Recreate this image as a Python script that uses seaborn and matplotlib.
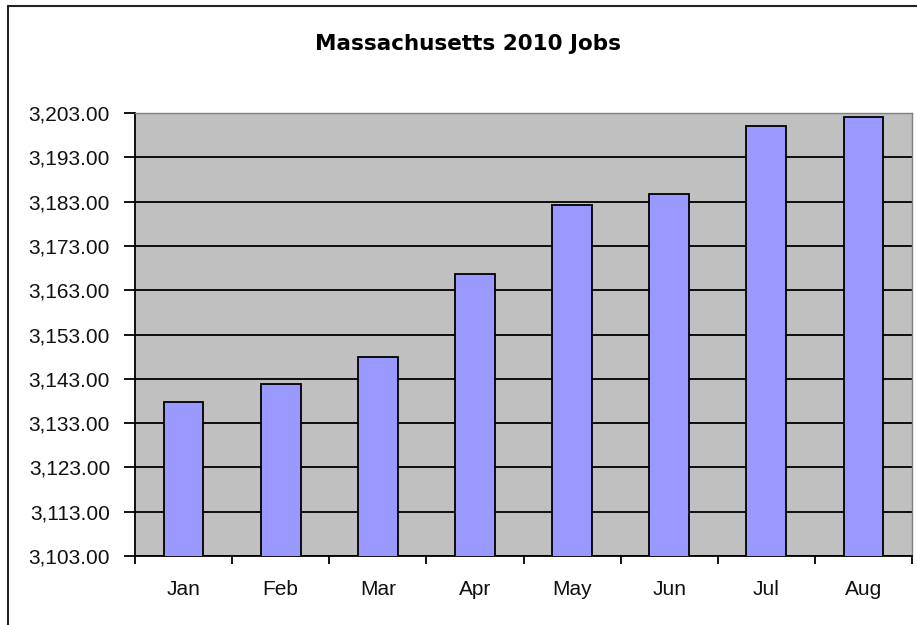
import matplotlib
matplotlib.use("Agg")
import matplotlib.pyplot as plt
from matplotlib.lines import Line2D
from matplotlib.ticker import FixedLocator, FuncFormatter
import seaborn as sns
import pandas as pd
import numpy as np

months = ["Jan", "Feb", "Mar", "Apr", "May", "Jun", "Jul", "Aug"]
jobs = [3137.7, 3141.8, 3147.9, 3166.6, 3182.2, 3184.8, 3200.0, 3202.2]
y_ticks = [3103, 3113, 3123, 3133, 3143, 3153, 3163, 3173, 3183, 3193, 3203]
title = "Massachusetts 2010 Jobs"

sns.set_theme(style="white")
plt.rcParams['font.family'] = ['Liberation Sans', 'DejaVu Sans']

df = pd.DataFrame({"month": months, "jobs": jobs})

fig = plt.figure(figsize=(9.17, 6.25), dpi=100)
ax = fig.add_axes([135/917, 1-556/625, (912-135)/917, (556-113)/625])
ax.set_facecolor("#C0C0C0")

sns.barplot(data=df, x="month", y="jobs", color="#9999FF", edgecolor="black",
            linewidth=1.3, width=0.41, saturation=1, ax=ax, zorder=3)

ax.set_ylim(y_ticks[0], y_ticks[-1])
ax.set_xlim(-0.5, len(months) - 0.5)
ax.yaxis.set_major_locator(FixedLocator(y_ticks))
ax.yaxis.set_major_formatter(FuncFormatter(lambda v, p: f"{v:,.2f}"))
ax.grid(axis="y", color="black", linewidth=1.3, zorder=1)
ax.set_axisbelow(True)
ax.set_xlabel("")
ax.set_ylabel("")

ax.tick_params(axis="y", which="major", direction="out", length=8, width=1.3,
               color="black", labelsize=15, labelcolor="#111111", pad=10, left=True)
ax.tick_params(axis="x", which="major", length=0, labelsize=15, labelcolor="#111111", pad=17)
ax.xaxis.set_minor_locator(FixedLocator(np.arange(-0.5, len(months), 1.0)))
ax.tick_params(axis="x", which="minor", direction="out", length=6, width=1.3,
               color="black", bottom=True)

for s in ["left", "bottom"]:
    ax.spines[s].set_color("black")
    ax.spines[s].set_linewidth(1.3)
for s in ["top", "right"]:
    ax.spines[s].set_color("#808080")
    ax.spines[s].set_linewidth(1.0)

fig.text(468/917, 1-44/625, title, ha="center", va="center",
         fontsize=15.5, fontweight="bold", color="black", family=["DejaVu Sans"])

# outer chart frame
fig.add_artist(Line2D([8/917, 1.0], [1-6/625, 1-6/625], transform=fig.transFigure,
                      color="#222222", linewidth=1.5))
fig.add_artist(Line2D([8/917, 8/917], [0.0, 1-6/625], transform=fig.transFigure,
                      color="#222222", linewidth=1.5))

fig.savefig("out.png", dpi=100)
